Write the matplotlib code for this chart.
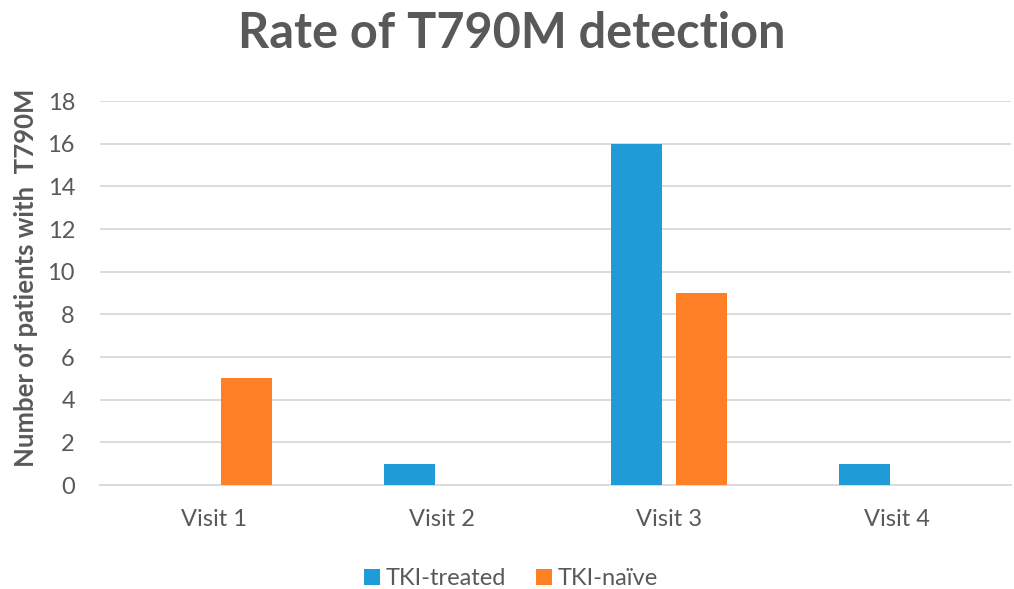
import numpy as np
import matplotlib
matplotlib.use('Agg')
import matplotlib.pyplot as plt

visits = ['Visit 1', 'Visit 2', 'Visit 3', 'Visit 4']
tki_treated = [0, 1, 16, 1]
tki_naive = [5, 0, 9, 0]
series_names = ['TKI-treated', 'TKI-naïve']
yticks = list(range(0, 20, 2))

plt.rcParams['font.family'] = ['Lato', 'DejaVu Sans']
gray = '#595959'

fig = plt.figure(figsize=(10.14, 5.89), dpi=100)
ax = fig.add_axes([100/1014, 1 - 485/589, 911/1014, 384/589])

x = np.arange(len(visits))
w = 0.224
ax.bar(x - 0.143, tki_treated, w, color='#1f9bd7', label=series_names[0], zorder=3)
ax.bar(x + 0.143, tki_naive, w, color='#fe7f26', label=series_names[1], zorder=3)

ax.set_xlim(-0.5, len(visits) - 0.5)
ax.set_ylim(0, 18)
ax.set_yticks(yticks)
ax.set_xticks(x)
ax.set_xticklabels(visits)
ax.grid(axis='y', color='#d9d9d9', linewidth=1.3, zorder=0)
for s in ['top', 'right', 'left']:
    ax.spines[s].set_visible(False)
ax.spines['bottom'].set_color('#d9d9d9')
ax.spines['bottom'].set_linewidth(1.3)
ax.tick_params(length=0, labelsize=17, labelcolor=gray)
ax.tick_params(axis='x', pad=17)
ax.tick_params(axis='y', pad=18)

ax.set_ylabel('Number of patients with  T790M', fontsize=18.5, fontweight='bold',
              color=gray)
ax.yaxis.set_label_coords(-0.068, 0.54)
fig.text(0.505, 0.943, 'Rate of T790M detection', ha='center', va='center',
         fontsize=35, fontweight='bold', color=gray)

fig.legend(loc='center', bbox_to_anchor=(0.504, 0.018), ncol=2, frameon=False,
           fontsize=17, labelcolor=gray, handlelength=0.68, handleheight=0.68,
           columnspacing=1.25, handletextpad=0.25)

fig.savefig('out.png', dpi=100)
